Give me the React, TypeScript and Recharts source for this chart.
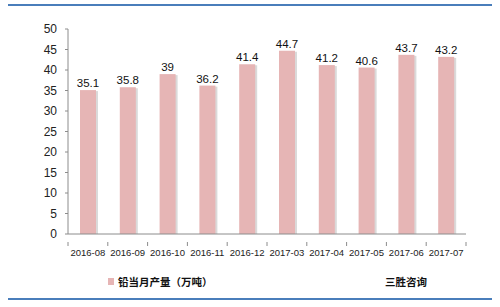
import { Bar, BarChart, LabelList, XAxis, YAxis } from 'recharts'

const months = ['2016-08', '2016-09', '2016-10', '2016-11', '2016-12', '2017-03', '2017-04', '2017-05', '2017-06', '2017-07']
const output = [35.1, 35.8, 39, 36.2, 41.4, 44.7, 41.2, 40.6, 43.7, 43.2]
const yTicks = [0, 5, 10, 15, 20, 25, 30, 35, 40, 45, 50]
const seriesName = '铅当月产量（万吨）'
const brand = '三胜咨询'

const data = months.map((m, i) => ({ month: m, value: output[i] }))

const BAR = '#E6B5B5'
const AXIS = '#8C8C8C'
const BLUE = '#4A7EBB'

const ShadowBar = (props: any) => {
  const { x, y, width, height } = props
  if (!height || height <= 0) return null
  return (
    <g>
      <rect x={x + 2} y={y + 1} width={width} height={height - 1} fill="#DADADA" />
      <rect x={x} y={y} width={width} height={height} fill={BAR} />
    </g>
  )
}

const XTick = (props: any) => {
  const { x, y, payload, index, visibleTicksCount } = props
  const half = payload.offset || 0
  return (
    <g>
      <line x1={x - half} x2={x - half} y1={y} y2={y + 4} stroke={AXIS} />
      {index === visibleTicksCount - 1 && (
        <line x1={x + half} x2={x + half} y1={y} y2={y + 4} stroke={AXIS} />
      )}
      <text x={x} y={y + 14} textAnchor="middle" fontSize={9.5} fill="#222" fontFamily="Liberation Sans, sans-serif">
        {payload.value}
      </text>
    </g>
  )
}

export default function App() {
  return (
    <div style={{ position: 'absolute', left: 0, top: 0, width: 500, height: 307, background: '#fff' }}>
      <div style={{ position: 'absolute', left: 8, top: 4, width: 484, height: 2, background: BLUE }} />
      <div style={{ position: 'absolute', left: 8, top: 298, width: 484, height: 2, background: BLUE }} />
      <BarChart width={500} height={307} data={data} margin={{ top: 29, right: 34, bottom: 0, left: 0 }}>
        <XAxis
          dataKey="month"
          height={73}
          stroke={AXIS}
          tickLine={false}
          tick={<XTick />}
          interval={0}
        />
        <YAxis
          width={68}
          domain={[0, 50]}
          ticks={yTicks}
          interval={0}
          stroke={AXIS}
          tickSize={3}
          tickMargin={8}
          tick={{ fontSize: 12, fill: '#222', fontFamily: 'Liberation Sans, sans-serif' }}
        />
        <Bar dataKey="value" name={seriesName} barSize={16} shape={<ShadowBar />} isAnimationActive={false}>
          <LabelList dataKey="value" position="top" offset={3} fontSize={11.5} fill="#111" fontFamily="Liberation Sans, sans-serif" />
        </Bar>
      </BarChart>
      <div style={{ position: 'absolute', left: 108, top: 274, display: 'flex', alignItems: 'center', fontFamily: 'Noto Sans CJK SC, sans-serif', fontSize: 10.5, fontWeight: 700, color: '#111' }}>
        <span style={{ width: 6, height: 7, background: BAR, display: 'inline-block', marginRight: 4 }} />
        <span>{seriesName}</span>
      </div>
      <div style={{ position: 'absolute', left: 385, top: 274, fontFamily: 'Noto Sans CJK SC, sans-serif', fontSize: 10.5, fontWeight: 700, color: '#111' }}>
        {brand}
      </div>
    </div>
  )
}
